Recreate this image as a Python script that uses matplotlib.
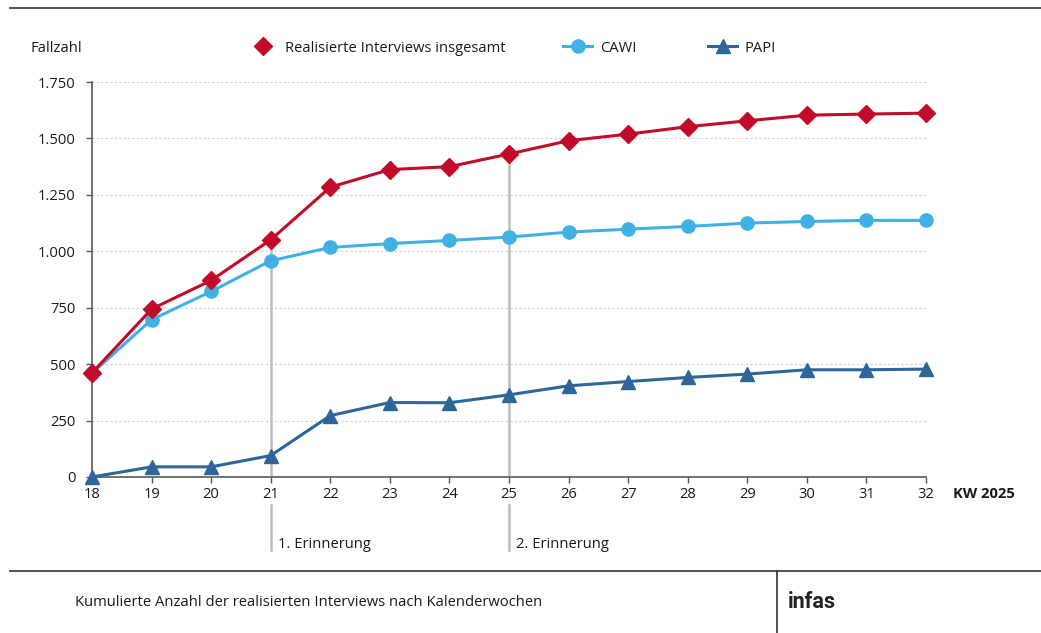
import matplotlib
matplotlib.use("Agg")
import matplotlib.pyplot as plt
from matplotlib.lines import Line2D
from matplotlib.ticker import FuncFormatter
from matplotlib import transforms

plt.rcParams['font.family'] = ['Open Sans', 'DejaVu Sans']

# ---- data ----
weeks = [18, 19, 20, 21, 22, 23, 24, 25, 26, 27, 28, 29, 30, 31, 32]
total = [461, 744, 871, 1051, 1284, 1362, 1375, 1431, 1490, 1519, 1552, 1578, 1603, 1608, 1612]
cawi = [460, 697, 822, 958, 1017, 1034, 1048, 1063, 1085, 1098, 1110, 1125, 1132, 1137, 1137]
papi = [0, 45, 45, 95, 272, 330, 329, 364, 404, 423, 441, 456, 475, 475, 478]
y_ticks = [0, 250, 500, 750, 1000, 1250, 1500, 1750]
reminder_weeks = [21, 25]
reminder_labels = ["1. Erinnerung", "2. Erinnerung"]
series_labels = ["Realisierte Interviews insgesamt", "CAWI", "PAPI"]

RED = "#C20A2A"
LBLUE = "#41B1E5"
DBLUE = "#2F6699"
GRID = "#cfcfcf"
SPINE = "#595959"
REM = "#bcbcbc"
TXT = "#1a1a1a"
FS = 10.6

W, H = 1041, 633
fig = plt.figure(figsize=(W / 100, H / 100), dpi=100)
ax = fig.add_axes([92 / W, (H - 477) / H, 834 / W, 395 / H])

# reminder lines inside the plot (from axis to total curve)
for wk in reminder_weeks:
    ax.vlines(wk, 0, total[weeks.index(wk)], color=REM, lw=1.8, zorder=1)

ax.plot(weeks, total, color=RED, lw=2.2, marker='D', ms=9.2, zorder=4, clip_on=False)
ax.plot(weeks, cawi, color=LBLUE, lw=2.2, marker='o', ms=9.5, zorder=3, clip_on=False)
ax.plot(weeks, papi, color=DBLUE, lw=2.2, marker='^', ms=10, zorder=3, clip_on=False)

ax.set_xlim(18, 32)
ax.set_ylim(0, 1750)
ax.set_xticks(weeks)
ax.set_yticks(y_ticks)
ax.yaxis.set_major_formatter(FuncFormatter(lambda v, p: f"{int(v):,}".replace(",", ".")))

for v in y_ticks[1:]:
    ax.axhline(v, color=GRID, lw=0.8, ls=(0, (2, 2)), zorder=0)

for s in ['top', 'right']:
    ax.spines[s].set_visible(False)
for s in ['left', 'bottom']:
    ax.spines[s].set_color(SPINE)
    ax.spines[s].set_linewidth(1.2)
ax.spines['bottom'].set_zorder(2)

ax.tick_params(axis='x', direction='out', length=4, width=1, color=SPINE,
               labelsize=FS, labelcolor=TXT, pad=3.5)
ax.tick_params(axis='y', direction='out', length=4, width=1, color=SPINE,
               labelsize=FS, labelcolor=TXT, pad=8)

# reminder lines and labels below the axis
trans = transforms.blended_transform_factory(ax.transData, fig.transFigure)
for wk, lab in zip(reminder_weeks, reminder_labels):
    fig.add_artist(Line2D([wk, wk], [1 - 505 / H, 1 - 550 / H], transform=trans,
                          color=REM, lw=1.8))
    fig.text(wk, 1 - 545 / H, lab,
             transform=trans + transforms.ScaledTranslation(7 / 100, 0, fig.dpi_scale_trans),
             fontsize=FS, color=TXT, va='center', ha='left')

fig.text(953 / W, 1 - 494 / H, "KW 2025", fontsize=FS, fontweight='bold', color=TXT,
         va='center', ha='left')
fig.text(30 / W, 1 - 48 / H, "Fallzahl", fontsize=FS, color=TXT, va='center', ha='left')

# legends
handles = [
    Line2D([], [], color=RED, marker='D', ms=9.2, ls='None'),
    Line2D([], [], color=LBLUE, marker='o', ms=9.5, lw=2.2),
    Line2D([], [], color=DBLUE, marker='^', ms=10, lw=2.2),
]
leg_x = [248, 563, 708]
for h, lab, lx in zip(handles, series_labels, leg_x):
    lg = fig.legend(handles=[h], labels=[lab], loc='center left',
                    bbox_to_anchor=(lx / W, 1 - 48 / H), bbox_transform=fig.transFigure,
                    frameon=False, borderpad=0, borderaxespad=0, handlelength=2.0,
                    handletextpad=0.5, fontsize=FS)
    for t in lg.get_texts():
        t.set_color(TXT)

# frame lines
fig.add_artist(Line2D([10 / W, 1], [1 - 8 / H, 1 - 8 / H], color="#333333", lw=1.2))
fig.add_artist(Line2D([10 / W, 1], [1 - 571 / H, 1 - 571 / H], color="#333333", lw=1.2))
fig.add_artist(Line2D([777 / W, 777 / W], [1 - 571 / H, 0], color="#333333", lw=1.2))

fig.text(75 / W, 1 - 603 / H, "Kumulierte Anzahl der realisierten Interviews nach Kalenderwochen",
         fontsize=FS, color=TXT, va='center', ha='left')
fig.text(788 / W, 1 - 602 / H, "infas", fontsize=15.5, fontweight='bold', color="#222222",
         va='center', ha='left', family=['Liberation Sans Narrow', 'Roboto', 'DejaVu Sans'])

fig.savefig("out.png", dpi=100)
